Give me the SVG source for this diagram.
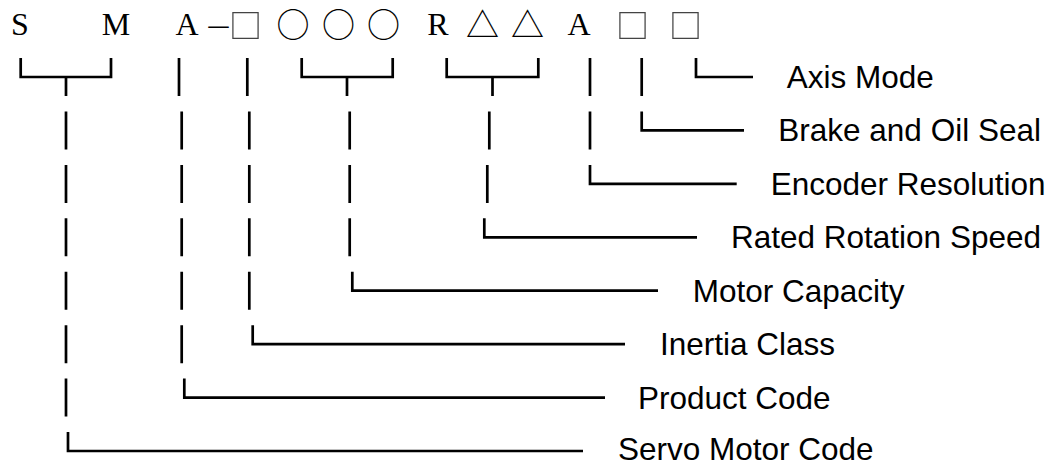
<svg xmlns="http://www.w3.org/2000/svg" width="1055" height="463" viewBox="0 0 1055 463">
  <defs>
    <!-- pass-through filter: renders the glyphs offscreen with plain grey antialiasing -->
    <filter id="flat" x="-10%" y="-10%" width="120%" height="120%">
      <feOffset dx="0" dy="0"/>
    </filter>
  </defs>
  <style>
    .code { font-family: "Liberation Serif", "Times New Roman", serif; font-size: 32px; fill: #000; text-anchor: middle; }
    .sym { font-family: "Noto Sans CJK SC", "DejaVu Sans", sans-serif; fill: #000; text-anchor: middle; }
    .box { font-size: 33px; fill: #444; filter: url(#flat); }
    .ring { font-size: 33px; }
    .tri { font-size: 33px; }
    .label { font-family: "Liberation Sans", Arial, sans-serif; font-size: 31.5px; fill: #000; }
    .wire { fill: none; stroke: #000; stroke-width: 2.7; stroke-linecap: butt; stroke-linejoin: miter; }
  </style>
  <rect width="1055" height="463" fill="#fff"/>

  <!-- model code string -->
  <g id="model-code">
    <text class="code" x="20" y="35">S</text>
    <text class="code" x="116" y="35">M</text>
    <text class="code" x="187" y="35">A</text>
    <text class="code" x="218.5" y="35" textLength="20" lengthAdjust="spacingAndGlyphs">–</text>
    <text class="sym box" x="245.5" y="38.4">□</text>
    <text class="sym ring" x="293" y="36.8">○</text>
    <text class="sym ring" x="338.5" y="36.8">○</text>
    <text class="sym ring" x="383.5" y="36.8">○</text>
    <text class="code" x="438" y="35">R</text>
    <text class="sym tri" x="482.5" y="37">△</text>
    <text class="sym tri" x="527.5" y="37">△</text>
    <text class="code" x="579" y="35">A</text>
    <text class="sym box" x="632.5" y="38.4">□</text>
    <text class="sym box" x="685.5" y="38.4">□</text>
  </g>

  <!-- brackets and leader lines -->
  <g id="connectors" class="wire">
    <!-- servo motor code (S M) -->
    <path d="M20.7,58 V77 H111 V58 M66,77 V96"/>
    <path d="M66,111.4 V149.4 M66,164.9 V202.9 M66,218.3 V256.3 M66,271.7 V309.7 M66,325.2 V363.2 M66,378.6 V416.6"/>
    <path d="M68,432 V451 H583"/>
    <!-- product code (A) -->
    <path d="M179,58 V96 M181.7,111.4 V149.4 M181.7,164.9 V202.9 M181.7,218.3 V256.3 M181.7,271.7 V309.7 M181.7,325.2 V363.2"/>
    <path d="M184.3,378.6 V397.6 H605"/>
    <!-- inertia class -->
    <path d="M247.3,58 V96 M249.3,111.4 V149.4 M249.3,164.9 V202.9 M249.3,218.3 V256.3 M249.3,271.7 V309.7"/>
    <path d="M252.7,325.2 V344.1 H625"/>
    <!-- motor capacity -->
    <path d="M301.7,58 V77 H392.7 V58 M347,77 V96"/>
    <path d="M349.7,111.4 V149.4 M349.7,164.9 V202.9 M349.7,218.3 V256.3"/>
    <path d="M352.3,271.7 V290.7 H658"/>
    <!-- rated rotation speed -->
    <path d="M446.7,58 V77 H538.3 V58 M492.5,77 V96"/>
    <path d="M489.3,111.4 V149.4 M487.3,164.9 V202.9"/>
    <path d="M484.3,218.3 V237.3 H697"/>
    <!-- encoder resolution -->
    <path d="M590,58 V96 M590,111.4 V149.4"/>
    <path d="M590,164.9 V183.9 H736.7"/>
    <!-- brake and oil seal -->
    <path d="M641.7,58 V96"/>
    <path d="M641.7,111.4 V130.4 H744"/>
    <!-- axis mode -->
    <path d="M696,58 V77 H753"/>
  </g>

  <g id="label-axis-mode"><text class="label" x="786.7" y="87.5">Axis Mode</text></g>
  <g id="label-brake"><text class="label" x="778.3" y="141">Brake and Oil Seal</text></g>
  <g id="label-encoder"><text class="label" x="770.7" y="194.5">Encoder Resolution</text></g>
  <g id="label-speed"><text class="label" x="731" y="248">Rated Rotation Speed</text></g>
  <g id="label-capacity"><text class="label" x="692.7" y="301.5">Motor Capacity</text></g>
  <g id="label-inertia"><text class="label" x="660" y="355">Inertia Class</text></g>
  <g id="label-product"><text class="label" x="638" y="408.5">Product Code</text></g>
  <g id="label-servo"><text class="label" x="618" y="459.5">Servo Motor Code</text></g>
</svg>
